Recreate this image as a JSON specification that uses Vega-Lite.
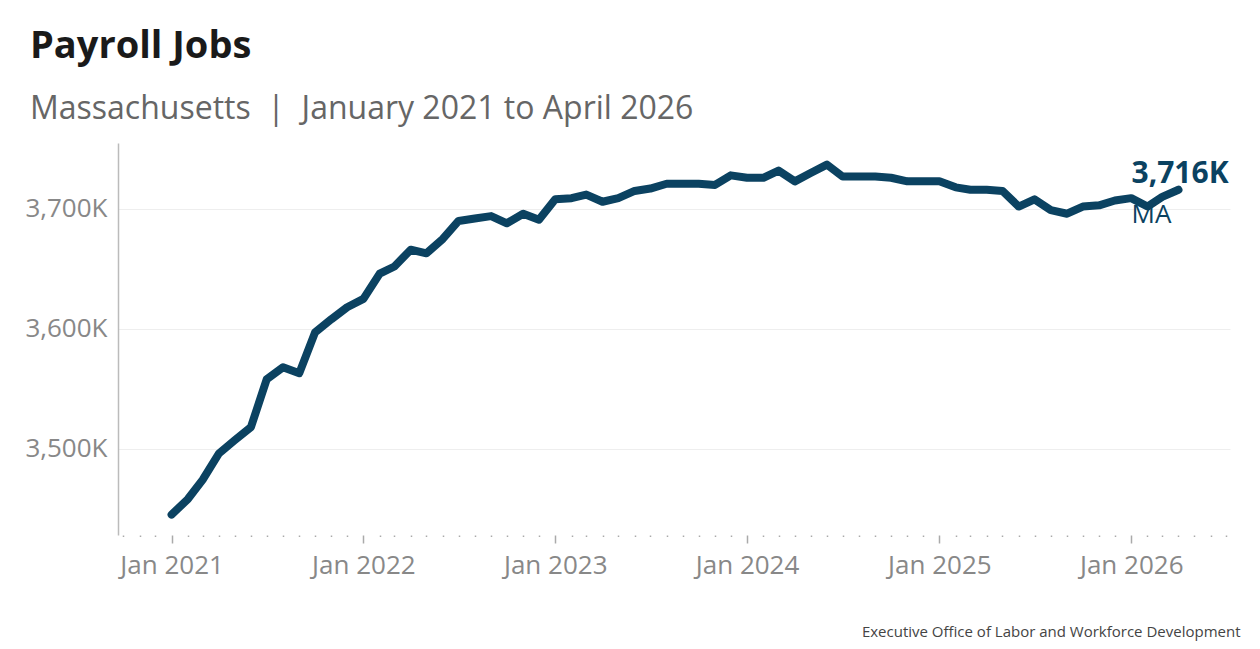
{
  "$schema": "https://vega.github.io/schema/vega-lite/v6.json",
  "description": "Massachusetts payroll jobs, Jan 2021 to Apr 2026.",
  "autosize": "none",
  "width": 1112,
  "height": 392,
  "padding": {"left": 118, "top": 143, "right": 30, "bottom": 114},
  "background": "white",
  "config": {
    "view": {"stroke": null},
    "font": "Open Sans"
  },
  "title": {
    "text": "Payroll Jobs",
    "subtitle": "Massachusetts \u00a0|\u00a0 January 2021 to April 2026",
    "anchor": "start",
    "frame": "group",
    "dx": -88,
    "offset": 18,
    "font": "Open Sans",
    "fontSize": 38,
    "fontWeight": "bold",
    "color": "#1a1a1a",
    "subtitleFont": "Open Sans",
    "subtitleFontSize": 32,
    "subtitleColor": "#666666",
    "subtitlePadding": 28
  },
  "data": {
    "values": [
      {"date": "2021/01/01", "jobs": 3445},
      {"date": "2021/02/01", "jobs": 3458},
      {"date": "2021/03/01", "jobs": 3474},
      {"date": "2021/04/01", "jobs": 3496},
      {"date": "2021/05/01", "jobs": 3507},
      {"date": "2021/06/01", "jobs": 3518},
      {"date": "2021/07/01", "jobs": 3558},
      {"date": "2021/08/01", "jobs": 3568},
      {"date": "2021/09/01", "jobs": 3563},
      {"date": "2021/10/01", "jobs": 3597},
      {"date": "2021/11/01", "jobs": 3608},
      {"date": "2021/12/01", "jobs": 3618},
      {"date": "2022/01/01", "jobs": 3625},
      {"date": "2022/02/01", "jobs": 3646},
      {"date": "2022/03/01", "jobs": 3652},
      {"date": "2022/04/01", "jobs": 3666},
      {"date": "2022/05/01", "jobs": 3663},
      {"date": "2022/06/01", "jobs": 3675},
      {"date": "2022/07/01", "jobs": 3690},
      {"date": "2022/08/01", "jobs": 3692},
      {"date": "2022/09/01", "jobs": 3694},
      {"date": "2022/10/01", "jobs": 3688},
      {"date": "2022/11/01", "jobs": 3696},
      {"date": "2022/12/01", "jobs": 3691},
      {"date": "2023/01/01", "jobs": 3708},
      {"date": "2023/02/01", "jobs": 3709},
      {"date": "2023/03/01", "jobs": 3712},
      {"date": "2023/04/01", "jobs": 3706},
      {"date": "2023/05/01", "jobs": 3709},
      {"date": "2023/06/01", "jobs": 3715},
      {"date": "2023/07/01", "jobs": 3717},
      {"date": "2023/08/01", "jobs": 3721},
      {"date": "2023/09/01", "jobs": 3721},
      {"date": "2023/10/01", "jobs": 3721},
      {"date": "2023/11/01", "jobs": 3720},
      {"date": "2023/12/01", "jobs": 3728},
      {"date": "2024/01/01", "jobs": 3726},
      {"date": "2024/02/01", "jobs": 3726},
      {"date": "2024/03/01", "jobs": 3732},
      {"date": "2024/04/01", "jobs": 3723},
      {"date": "2024/05/01", "jobs": 3730},
      {"date": "2024/06/01", "jobs": 3737},
      {"date": "2024/07/01", "jobs": 3727},
      {"date": "2024/08/01", "jobs": 3727},
      {"date": "2024/09/01", "jobs": 3727},
      {"date": "2024/10/01", "jobs": 3726},
      {"date": "2024/11/01", "jobs": 3723},
      {"date": "2024/12/01", "jobs": 3723},
      {"date": "2025/01/01", "jobs": 3723},
      {"date": "2025/02/01", "jobs": 3718},
      {"date": "2025/03/01", "jobs": 3716},
      {"date": "2025/04/01", "jobs": 3716},
      {"date": "2025/05/01", "jobs": 3715},
      {"date": "2025/06/01", "jobs": 3702},
      {"date": "2025/07/01", "jobs": 3708},
      {"date": "2025/08/01", "jobs": 3699},
      {"date": "2025/09/01", "jobs": 3696},
      {"date": "2025/10/01", "jobs": 3702},
      {"date": "2025/11/01", "jobs": 3703},
      {"date": "2025/12/01", "jobs": 3707},
      {"date": "2026/01/01", "jobs": 3709},
      {"date": "2026/02/01", "jobs": 3702},
      {"date": "2026/03/01", "jobs": 3710},
      {"date": "2026/04/01", "jobs": 3716}
    ]
  },
  "encoding": {
    "x": {
      "field": "date",
      "type": "temporal",
      "scale": {
        "domain": [
          {"year": 2020, "month": 9, "date": 21},
          {"year": 2026, "month": 7, "date": 8}
        ]
      },
      "axis": {
        "title": "Executive Office of Labor and Workforce Development",
        "titleFont": "Open Sans",
        "titleFontSize": 15,
        "titleFontWeight": "normal",
        "titleColor": "#444444",
        "titleAlign": "right",
        "titleBaseline": "alphabetic",
        "titleX": 1122,
        "titleY": 101,
        "domain": false,
        "grid": false,
        "tickCount": {"interval": "month", "step": 1},
        "tickColor": "#aaaaaa",
        "tickWidth": 1.5,
        "tickSize": {"condition": {"test": "month(datum.value) == 0", "value": 8}, "value": 1.5},
        "labelExpr": "month(datum.value) == 0 ? timeFormat(datum.value, '%b %Y') : ''",
        "labelOverlap": false,
        "labelFlush": false,
        "labelFont": "Open Sans",
        "labelFontSize": 26,
        "labelColor": "#888888",
        "labelPadding": 9
      }
    },
    "y": {
      "field": "jobs",
      "type": "quantitative",
      "scale": {"domain": [3428, 3755], "nice": false, "zero": false},
      "axis": {
        "title": null,
        "values": [3500, 3600, 3700],
        "labelExpr": "format(datum.value, ',') + 'K'",
        "labelFont": "Open Sans",
        "labelFontSize": 26,
        "labelColor": "#888888",
        "labelPadding": 11,
        "ticks": false,
        "domain": true,
        "domainColor": "#bbbbbb",
        "domainWidth": 1.5,
        "grid": true,
        "gridColor": "#eeeeee",
        "gridWidth": 1
      }
    }
  },
  "layer": [
    {
      "mark": {
        "type": "line",
        "color": "#0b4261",
        "strokeWidth": 8,
        "strokeCap": "round",
        "strokeJoin": "round"
      }
    },
    {
      "transform": [{"filter": "year(datum.date) == 2026 && month(datum.date) == 3"}],
      "mark": {
        "type": "text",
        "align": "left",
        "baseline": "alphabetic",
        "dx": -47,
        "dy": -7,
        "font": "Open Sans",
        "fontSize": 30,
        "fontWeight": "bold",
        "color": "#0b4261"
      },
      "encoding": {
        "text": {"value": "3,716K"}
      }
    },
    {
      "transform": [{"filter": "year(datum.date) == 2026 && month(datum.date) == 3"}],
      "mark": {
        "type": "text",
        "align": "left",
        "baseline": "alphabetic",
        "dx": -47,
        "dy": 33,
        "font": "Open Sans",
        "fontSize": 26,
        "color": "#0b4261"
      },
      "encoding": {
        "text": {"value": "MA"}
      }
    }
  ]
}
